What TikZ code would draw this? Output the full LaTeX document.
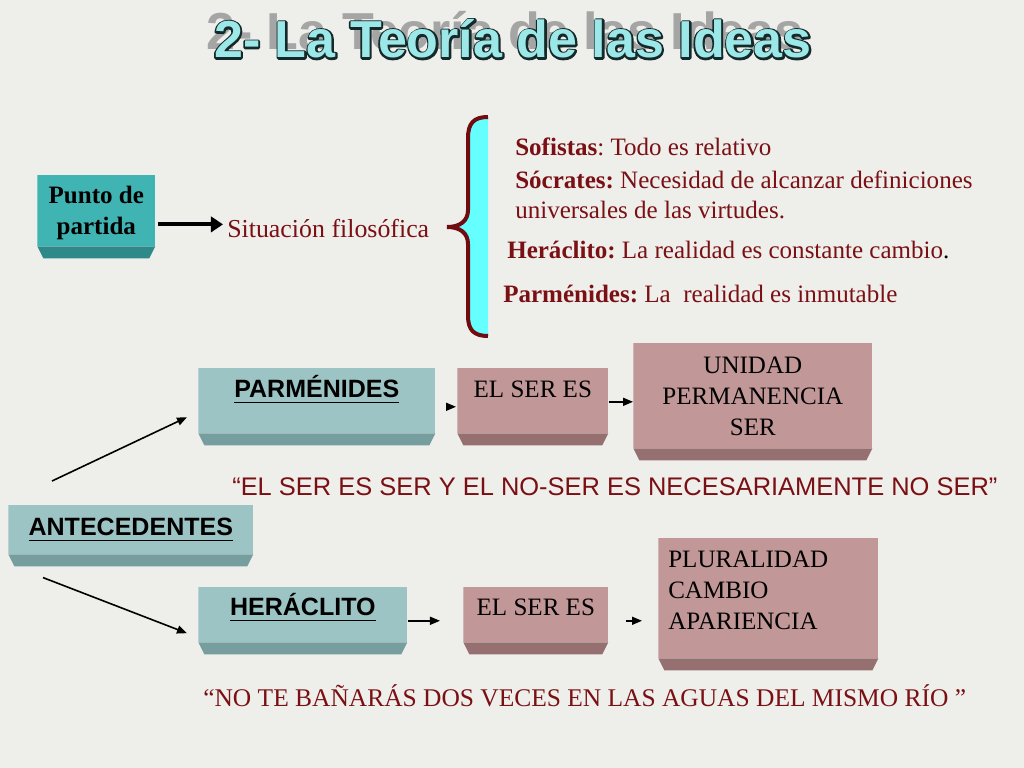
\documentclass[tikz,border=0pt]{standalone}
\usepackage{fontspec}
\setmainfont{Liberation Serif}
\setsansfont{Liberation Sans}
\usetikzlibrary{positioning,arrows.meta}

\definecolor{paper}{RGB}{238,238,235}
\definecolor{maroon}{RGB}{122,16,20}
\definecolor{bracered}{RGB}{112,12,16}
\definecolor{braceblue}{RGB}{102,255,255}
\definecolor{tealface}{RGB}{64,179,179}
\definecolor{tealedge}{RGB}{46,138,138}
\definecolor{sageface}{RGB}{157,196,196}
\definecolor{sageedge}{RGB}{118,158,158}
\definecolor{roseface}{RGB}{193,151,151}
\definecolor{roseedge}{RGB}{150,112,112}
\definecolor{titlefill}{RGB}{156,232,232}
\definecolor{titleshadow}{RGB}{165,165,165}

\frenchspacing
\newcommand{\slidefont}{\fontsize{17.8pt}{22pt}\selectfont}
\newcommand{\titlefont}{\fontsize{37pt}{40pt}\selectfont\sffamily\bfseries}
\newsavebox{\ulsave}
\newcommand{\thickul}[1]{\sbox{\ulsave}{#1}\rlap{\usebox{\ulsave}}\rule[-4.3pt]{\wd\ulsave}{1.3pt}}
\newcommand{\outlinetext}[1]{\rlap{\special{pdf:literal direct q 1 j 1 Tr 2.6 w 0.08 0.16 0.16 RG}#1\special{pdf:literal direct Q}}#1}

\begin{document}
\begin{tikzpicture}[x=0.025cm, y=-0.025cm,
  slab/.style 2 args={inner xsep=0pt, inner ysep=0pt, anchor=north west, font=\slidefont,
    path picture={
      \fill[#1] (path picture bounding box.north west) rectangle ([yshift=0.3cm]path picture bounding box.south east);
      \fill[#2] ([yshift=0.3cm]path picture bounding box.south west) -- ([xshift=0.15cm]path picture bounding box.south west)
        -- ([xshift=-0.15cm]path picture bounding box.south east) -- ([yshift=0.3cm]path picture bounding box.south east) -- cycle;}},
  item/.style={anchor=base west, inner sep=0pt, font=\slidefont, text=maroon},
  arr/.style={-{Triangle[length=0.25cm,width=0.2cm]}, line width=0.04cm},
  fat/.style={-{Triangle[length=0.3cm,width=0.38cm]}, line width=0.1cm}]

  \fill[paper] (0,0) rectangle (1024,768);
  \useasboundingbox (0,0) rectangle (1024,768);

  % Title
  \node[font=\titlefont, text=titleshadow, anchor=base] (TitleShade) at (505,50) {2- La Teoría de las Ideas};
  \node[font=\titlefont, text=titlefill, anchor=base] (Title) at (513,58) {\outlinetext{2- La Teoría de las Ideas}};

  % Starting point
  \node[slab={tealface}{tealedge}, minimum width=2.95cm, text height=0.7cm, text depth=1.375cm, font=\slidefont\bfseries] (Punto) at (37,175) {\begin{tabular}[t]{@{}c@{}}Punto de\\partida\end{tabular}};
  \node[item, font=\fontsize{18.4pt}{22pt}\selectfont] (Sit) at (227,237) {Situación filosófica};
  \draw[fat, shorten <=0.05cm, shorten >=0.1cm] ([yshift=-0.19cm]Punto.east) -- ([yshift=-0.19cm]Punto.east -| Sit.west);

  % Brace
  \fill[braceblue] (488,117) .. controls (474,117) and (468,123) .. (468,138) -- (468,210)
    .. controls (468,221) and (460,227) .. (447,227) .. controls (460,227) and (468,233) .. (468,244)
    -- (468,316) .. controls (468,330) and (474,336) .. (488,336) -- cycle;
  \draw[bracered, line width=0.1cm] (488,117) .. controls (474,117) and (468,123) .. (468,138) -- (468,210)
    .. controls (468,221) and (460,227) .. (447,227) .. controls (460,227) and (468,233) .. (468,244)
    -- (468,316) .. controls (468,330) and (474,336) .. (488,336);

  % Positions
  \node[item] (Sof) at (515,156) {\textbf{Sofistas}: Todo es relativo};
  \node[item] (Soc) at (515,188) {\begin{tabular}[t]{@{}l@{}}\textbf{Sócrates:} Necesidad de alcanzar definiciones\\universales de las virtudes.\end{tabular}};
  \node[item] (Her) at (507,258) {\textbf{Heráclito:} La realidad es constante cambio{\color{black}.}};
  \node[item] (Par) at (503,302) {\textbf{Parménides:} La\ \ realidad es inmutable};

  % Parmenides row
  \node[slab={sageface}{sageedge}, minimum width=5.925cm, text height=0.725cm, text depth=1.2cm, font=\slidefont\sffamily\bfseries] (Parm) at (198,368) {\thickul{PARMÉNIDES}};
  \node[slab={roseface}{roseedge}, minimum width=3.775cm, text height=0.725cm, text depth=1.2cm] (ParmSer) at (457,368) {EL SER ES};
  \node[slab={roseface}{roseedge}, minimum width=5.975cm, text height=0.75cm, text depth=2.175cm] (Unidad) at (633,343) {\begin{tabular}[t]{@{}c@{}}UNIDAD\\PERMANENCIA\\SER\end{tabular}};
  \node[item, font=\fontsize{18.1pt}{22pt}\selectfont\sffamily] (Lema1) at (232,495) {“EL SER ES SER Y EL NO-SER ES NECESARIAMENTE NO SER”};

  % Antecedents
  \node[slab={sageface}{sageedge}, minimum width=6.125cm, text height=0.75cm, text depth=0.775cm, font=\slidefont\sffamily\bfseries] (Ante) at (8,505) {\thickul{ANTECEDENTES}\hspace{0.35cm}};

  % Heraclitus row
  \node[slab={sageface}{sageedge}, minimum width=5.225cm, text height=0.7cm, text depth=0.975cm, font=\slidefont\sffamily\bfseries] (Hera) at (198,587) {\thickul{HERÁCLITO}};
  \node[slab={roseface}{roseedge}, minimum width=3.625cm, text height=0.7cm, text depth=0.975cm] (HeraSer) at (463,587) {EL SER ES};
  \node[slab={roseface}{roseedge}, minimum width=5.5cm, text height=0.725cm, text depth=2.575cm] (Plural) at (658,538) {\begin{tabular}[t]{@{\hspace{0.25cm}}p{5.25cm}@{}}PLURALIDAD\\CAMBIO\\APARIENCIA\end{tabular}};
  \node[item, font=\fontsize{18.1pt}{22pt}\selectfont] (Lema2) at (203,706) {“NO TE BAÑARÁS DOS VECES EN LAS AGUAS DEL MISMO RÍO ”};

  % Arrows
  \draw[arr] ([shift={(1.1cm,0.6cm)}]Ante.north west) -- ([shift={(-0.275cm,-0.26cm)}]Parm.west);
  \draw[arr] ([shift={(0.875cm,-0.275cm)}]Ante.south west) -- ([shift={(-0.275cm,-0.31cm)}]Hera.west);
  \draw[arr, shorten <=0.325cm, shorten >=0.025cm] (Parm.east) -- (ParmSer.west);
  \draw[arr] (ParmSer.east |- Unidad.west) -- (Unidad.west);
  \draw[arr, shorten >=0.575cm] (Hera.east) -- (HeraSer.west);
  \draw[arr, shorten <=0.425cm, shorten >=0.4cm] (HeraSer.east) -- (HeraSer.east -| Plural.west);

\end{tikzpicture}
\end{document}
